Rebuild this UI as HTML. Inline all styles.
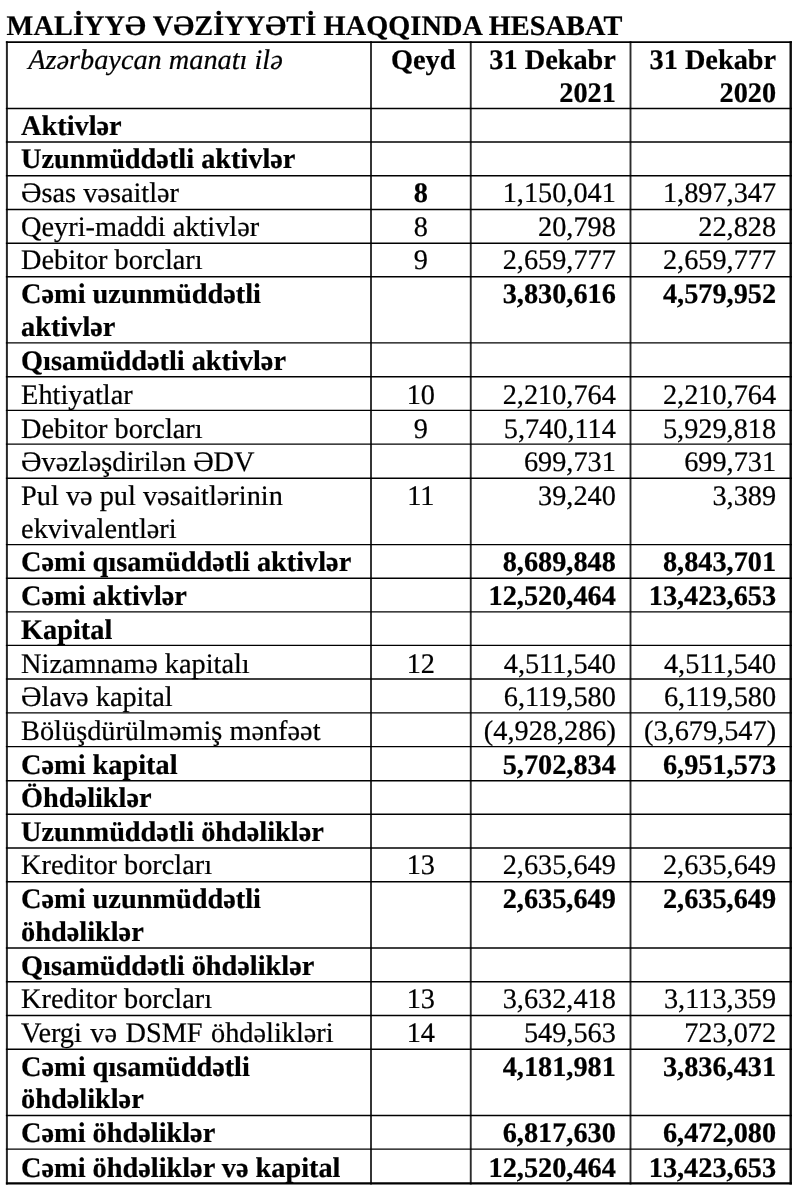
<!DOCTYPE html>
<html lang="az"><head><meta charset="utf-8"><title>Maliyyə vəziyyəti haqqında hesabat</title>
<style>
html,body{margin:0;padding:0;background:#fff}
body{width:800px;height:1194px;position:relative;overflow:hidden;font-family:"Liberation Serif","Times New Roman",serif;font-size:28.3px;line-height:33px;color:#000;text-rendering:geometricPrecision;-webkit-text-stroke:0.22px #000}
#grid{position:absolute;left:0;top:0}
h1{position:absolute;left:6.6px;top:10px;letter-spacing:0.09px;margin:0;font-size:28.3px;line-height:33px;font-weight:bold;white-space:nowrap}
.c{position:absolute;white-space:nowrap;height:33px}
.c1{left:21.1px;text-align:left}
.c2{left:371.0px;width:99.75px;text-align:center}
.c3{left:470.75px;width:145.15px;text-align:right}
.c4{left:630.5px;width:145.6px;text-align:right}
.b{font-weight:bold}.i{font-style:italic}
</style></head><body>

<svg id="grid" width="800" height="1194" viewBox="0 0 800 1194">
<line x1="6.90" y1="41.20" x2="6.90" y2="1184.40" stroke="#262626" stroke-width="2.0"/>
<line x1="371.00" y1="41.20" x2="371.00" y2="1184.40" stroke="#2c2c2c" stroke-width="1.9"/>
<line x1="470.75" y1="41.20" x2="470.75" y2="1184.40" stroke="#2c2c2c" stroke-width="1.9"/>
<line x1="630.50" y1="41.20" x2="630.50" y2="1184.40" stroke="#2c2c2c" stroke-width="1.9"/>
<line x1="790.70" y1="41.20" x2="790.70" y2="1184.40" stroke="#0a0a0a" stroke-width="2.4"/>
<line x1="5.90" y1="42.00" x2="791.90" y2="42.00" stroke="#000" stroke-width="1.75"/>
<line x1="5.90" y1="108.50" x2="791.90" y2="108.50" stroke="#000" stroke-width="1.4"/>
<line x1="5.90" y1="141.95" x2="791.90" y2="141.95" stroke="#000" stroke-width="1.4"/>
<line x1="5.90" y1="175.80" x2="791.90" y2="175.80" stroke="#000" stroke-width="1.4"/>
<line x1="5.90" y1="209.50" x2="791.90" y2="209.50" stroke="#000" stroke-width="1.4"/>
<line x1="5.90" y1="243.30" x2="791.90" y2="243.30" stroke="#000" stroke-width="1.4"/>
<line x1="5.90" y1="276.80" x2="791.90" y2="276.80" stroke="#000" stroke-width="1.4"/>
<line x1="5.90" y1="342.90" x2="791.90" y2="342.90" stroke="#000" stroke-width="1.4"/>
<line x1="5.90" y1="376.70" x2="791.90" y2="376.70" stroke="#000" stroke-width="1.4"/>
<line x1="5.90" y1="410.40" x2="791.90" y2="410.40" stroke="#000" stroke-width="1.4"/>
<line x1="5.90" y1="444.15" x2="791.90" y2="444.15" stroke="#000" stroke-width="1.4"/>
<line x1="5.90" y1="478.20" x2="791.90" y2="478.20" stroke="#000" stroke-width="1.4"/>
<line x1="5.90" y1="544.60" x2="791.90" y2="544.60" stroke="#000" stroke-width="1.4"/>
<line x1="5.90" y1="578.20" x2="791.90" y2="578.20" stroke="#000" stroke-width="1.4"/>
<line x1="5.90" y1="611.90" x2="791.90" y2="611.90" stroke="#000" stroke-width="1.4"/>
<line x1="5.90" y1="645.40" x2="791.90" y2="645.40" stroke="#000" stroke-width="1.4"/>
<line x1="5.90" y1="679.00" x2="791.90" y2="679.00" stroke="#000" stroke-width="1.4"/>
<line x1="5.90" y1="712.90" x2="791.90" y2="712.90" stroke="#000" stroke-width="1.4"/>
<line x1="5.90" y1="746.65" x2="791.90" y2="746.65" stroke="#000" stroke-width="1.4"/>
<line x1="5.90" y1="780.70" x2="791.90" y2="780.70" stroke="#000" stroke-width="1.4"/>
<line x1="5.90" y1="814.20" x2="791.90" y2="814.20" stroke="#000" stroke-width="1.4"/>
<line x1="5.90" y1="848.00" x2="791.90" y2="848.00" stroke="#000" stroke-width="1.4"/>
<line x1="5.90" y1="881.70" x2="791.90" y2="881.70" stroke="#000" stroke-width="1.4"/>
<line x1="5.90" y1="948.00" x2="791.90" y2="948.00" stroke="#000" stroke-width="1.4"/>
<line x1="5.90" y1="981.70" x2="791.90" y2="981.70" stroke="#000" stroke-width="1.4"/>
<line x1="5.90" y1="1015.55" x2="791.90" y2="1015.55" stroke="#000" stroke-width="1.4"/>
<line x1="5.90" y1="1049.20" x2="791.90" y2="1049.20" stroke="#000" stroke-width="1.4"/>
<line x1="5.90" y1="1115.55" x2="791.90" y2="1115.55" stroke="#000" stroke-width="1.4"/>
<line x1="5.90" y1="1149.10" x2="791.90" y2="1149.10" stroke="#000" stroke-width="1.4"/>
<line x1="5.90" y1="1183.30" x2="791.90" y2="1183.30" stroke="#000" stroke-width="2.3"/>
</svg>
<h1>MALİYYƏ VƏZİYYƏTİ HAQQINDA HESABAT</h1>
<!-- row 0 -->
<div class="c c1 i" style="top:44px"> Azərbaycan manatı ilə</div>
<div class="c c2 b" style="top:44px"><span style="position:relative;left:2.4px">Qeyd</span></div>
<div class="c c3 b" style="top:44px">31 Dekabr</div>
<div class="c c3 b" style="top:77px">2021</div>
<div class="c c4 b" style="top:44px">31 Dekabr</div>
<div class="c c4 b" style="top:77px">2020</div>
<!-- row 1 -->
<div class="c c1 b" style="top:110px">Aktivlər</div>
<!-- row 2 -->
<div class="c c1 b" style="top:143px">Uzunmüddətli aktivlər</div>
<!-- row 3 -->
<div class="c c1" style="top:177px">Əsas vəsaitlər</div>
<div class="c c2 b" style="top:177px">8</div>
<div class="c c3" style="top:177px">1,150,041</div>
<div class="c c4" style="top:177px">1,897,347</div>
<!-- row 4 -->
<div class="c c1" style="top:211px">Qeyri-maddi aktivlər</div>
<div class="c c2" style="top:211px">8</div>
<div class="c c3" style="top:211px">20,798</div>
<div class="c c4" style="top:211px">22,828</div>
<!-- row 5 -->
<div class="c c1" style="top:244px">Debitor borcları</div>
<div class="c c2" style="top:244px">9</div>
<div class="c c3" style="top:244px">2,659,777</div>
<div class="c c4" style="top:244px">2,659,777</div>
<!-- row 6 -->
<div class="c c1 b" style="top:278px">Cəmi uzunmüddətli</div>
<div class="c c1 b" style="top:311px">aktivlər</div>
<div class="c c3 b" style="top:278px">3,830,616</div>
<div class="c c4 b" style="top:278px">4,579,952</div>
<!-- row 7 -->
<div class="c c1 b" style="top:345px">Qısamüddətli aktivlər</div>
<!-- row 8 -->
<div class="c c1" style="top:379px">Ehtiyatlar</div>
<div class="c c2" style="top:379px">10</div>
<div class="c c3" style="top:379px">2,210,764</div>
<div class="c c4" style="top:379px">2,210,764</div>
<!-- row 9 -->
<div class="c c1" style="top:413px">Debitor borcları</div>
<div class="c c2" style="top:413px">9</div>
<div class="c c3" style="top:413px">5,740,114</div>
<div class="c c4" style="top:413px">5,929,818</div>
<!-- row 10 -->
<div class="c c1" style="top:446px">Əvəzləşdirilən ƏDV</div>
<div class="c c3" style="top:446px">699,731</div>
<div class="c c4" style="top:446px">699,731</div>
<!-- row 11 -->
<div class="c c1" style="top:480px">Pul və pul vəsaitlərinin</div>
<div class="c c1" style="top:513px">ekvivalentləri</div>
<div class="c c2" style="top:480px">11</div>
<div class="c c3" style="top:480px">39,240</div>
<div class="c c4" style="top:480px">3,389</div>
<!-- row 12 -->
<div class="c c1 b" style="top:546px">Cəmi qısamüddətli aktivlər</div>
<div class="c c3 b" style="top:546px">8,689,848</div>
<div class="c c4 b" style="top:546px">8,843,701</div>
<!-- row 13 -->
<div class="c c1 b" style="top:580px">Cəmi aktivlər</div>
<div class="c c3 b" style="top:580px">12,520,464</div>
<div class="c c4 b" style="top:580px">13,423,653</div>
<!-- row 14 -->
<div class="c c1 b" style="top:614px">Kapital</div>
<!-- row 15 -->
<div class="c c1" style="top:648px">Nizamnamə kapitalı</div>
<div class="c c2" style="top:648px">12</div>
<div class="c c3" style="top:648px">4,511,540</div>
<div class="c c4" style="top:648px">4,511,540</div>
<!-- row 16 -->
<div class="c c1" style="top:681px">Əlavə kapital</div>
<div class="c c3" style="top:681px">6,119,580</div>
<div class="c c4" style="top:681px">6,119,580</div>
<!-- row 17 -->
<div class="c c1" style="top:715px">Bölüşdürülməmiş mənfəət</div>
<div class="c c3" style="top:715px">(4,928,286)</div>
<div class="c c4" style="top:715px">(3,679,547)</div>
<!-- row 18 -->
<div class="c c1 b" style="top:749px">Cəmi kapital</div>
<div class="c c3 b" style="top:749px">5,702,834</div>
<div class="c c4 b" style="top:749px">6,951,573</div>
<!-- row 19 -->
<div class="c c1 b" style="top:782px">Öhdəliklər</div>
<!-- row 20 -->
<div class="c c1 b" style="top:816px">Uzunmüddətli öhdəliklər</div>
<!-- row 21 -->
<div class="c c1" style="top:849px">Kreditor borcları</div>
<div class="c c2" style="top:849px">13</div>
<div class="c c3" style="top:849px">2,635,649</div>
<div class="c c4" style="top:849px">2,635,649</div>
<!-- row 22 -->
<div class="c c1 b" style="top:883px">Cəmi uzunmüddətli</div>
<div class="c c1 b" style="top:916px">öhdəliklər</div>
<div class="c c3 b" style="top:883px">2,635,649</div>
<div class="c c4 b" style="top:883px">2,635,649</div>
<!-- row 23 -->
<div class="c c1 b" style="top:950px">Qısamüddətli öhdəliklər</div>
<!-- row 24 -->
<div class="c c1" style="top:983px">Kreditor borcları</div>
<div class="c c2" style="top:983px">13</div>
<div class="c c3" style="top:983px">3,632,418</div>
<div class="c c4" style="top:983px">3,113,359</div>
<!-- row 25 -->
<div class="c c1" style="top:1017px;word-spacing:1.4px">Vergi və DSMF öhdəlikləri</div>
<div class="c c2" style="top:1017px">14</div>
<div class="c c3" style="top:1017px">549,563</div>
<div class="c c4" style="top:1017px">723,072</div>
<!-- row 26 -->
<div class="c c1 b" style="top:1051px">Cəmi qısamüddətli</div>
<div class="c c1 b" style="top:1083px">öhdəliklər</div>
<div class="c c3 b" style="top:1051px">4,181,981</div>
<div class="c c4 b" style="top:1051px">3,836,431</div>
<!-- row 27 -->
<div class="c c1 b" style="top:1117px">Cəmi öhdəliklər</div>
<div class="c c3 b" style="top:1117px">6,817,630</div>
<div class="c c4 b" style="top:1117px">6,472,080</div>
<!-- row 28 -->
<div class="c c1 b" style="top:1152px">Cəmi öhdəliklər və kapital</div>
<div class="c c3 b" style="top:1152px">12,520,464</div>
<div class="c c4 b" style="top:1152px">13,423,653</div>
</body></html>
